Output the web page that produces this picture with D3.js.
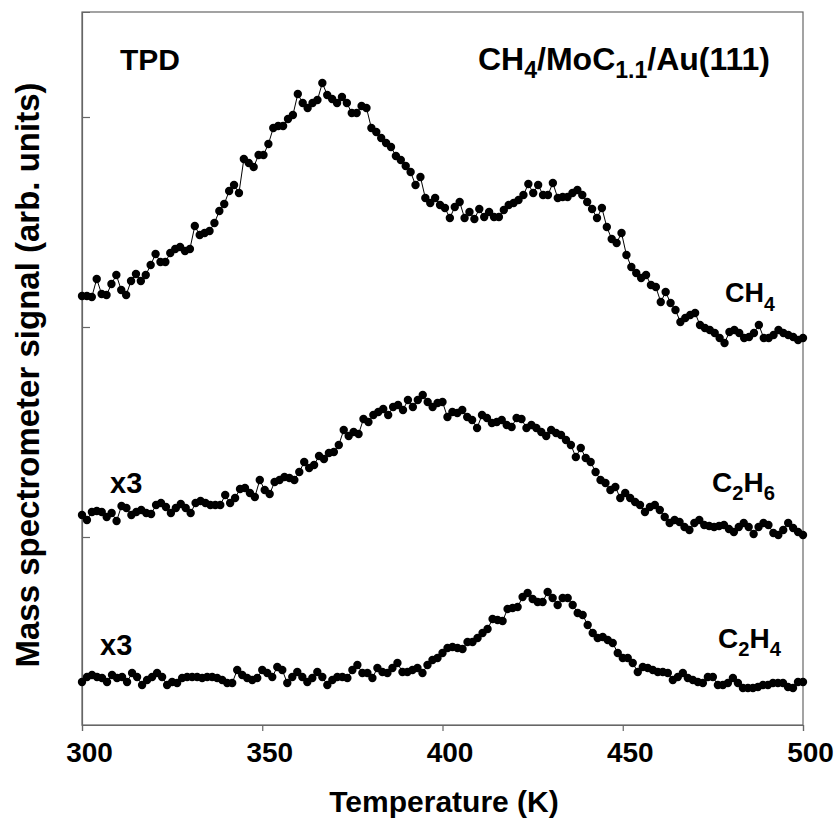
<!DOCTYPE html>
<html>
<head>
<meta charset="utf-8">
<script src="https://cdn.jsdelivr.net/npm/d3@7"></script>
<style>
  body { margin: 0; background: #fff; }
  svg { display: block; }
  text { font-family: Arial, "Liberation Sans", sans-serif; font-weight: bold; fill: #000; }
</style>
</head>
<body>
<svg id="chart" width="835" height="819"></svg>
<script>
const ch4 = [429,429,428,446,431,430,441,450,435,430,444,451,444,450,460,471,463,463,472,476,478,474,476,499,490,492,494,502,514,521,534,540,532,566,562,558,570,570,581,597,599,599,606,610,631,622,617,622,625,642,630,626,622,628,622,612,612,619,
  617,597,593,587,582,578,569,565,559,553,540,548,527,522,527,520,517,507,518,523,507,513,506,516,508,513,508,508,515,520,522,525,530,541,532,540,530,530,542,527,528,528,532,535,530,523,516,507,517,498,486,482,492,
  470,458,452,447,450,440,438,423,433,422,415,403,407,410,412,400,397,395,392,387,382,393,395,392,387,388,392,400,387,387,390,395,392,390,388,385,387];

const c2h6 = [210,205,213,214,213,208,212,204,219,217,210,213,215,212,211,220,222,218,212,217,221,217,212,222,224,222,220,220,220,230,222,227,236,237,232,228,245,235,231,243,245,248,247,245,253,263,257,260,269,266,272,273,280,295,289,293,291,306,303,310,313,316,310,318,320,315,325,318,325,330,323,318,322,323,
  308,313,312,315,308,305,297,310,307,302,303,305,300,298,307,306,297,300,297,293,289,295,292,290,285,280,268,277,267,263,253,245,242,235,238,227,232,227,223,220,213,218,220,215,208,202,205,203,198,195,202,205,200,199,198,199,200,196,193,198,202,198,191,198,202,200,192,190,195,202,197,193,190];

const c2h4 = [43,48,50,48,47,43,50,47,48,43,52,48,40,45,48,52,48,40,43,42,47,48,48,48,47,48,48,47,45,42,42,55,50,47,45,47,55,52,48,58,55,42,48,53,48,43,47,53,48,40,45,48,48,47,55,60,52,52,47,57,53,52,57,62,53,53,55,57,52,60,65,67,
  72,77,78,77,76,83,83,87,92,96,106,105,104,116,117,118,128,132,126,123,123,133,127,120,127,127,120,112,110,100,92,87,88,85,82,72,67,67,62,53,58,57,55,53,53,52,45,48,52,47,45,43,42,48,48,40,40,42,47,42,37,37,37,38,40,40,42,42,42,38,37,43,43];

const xTicks = [300, 350, 400, 450, 500];
const yTicks = [188, 398, 608];

const margin = { top: 12, left: 82 };
const W = 721, H = 713;
const svg = d3.select('#chart');
const g = svg.append('g').attr('transform', `translate(${margin.left},${margin.top})`);

const x = d3.scaleLinear().domain([300, 500]).range([0, W]);
const y = d3.scaleLinear().domain([0, 713]).range([H, 0]);

const frameCol = '#666';

// frame
g.append('rect').attr('width', W).attr('height', H)
  .attr('fill', 'none').attr('stroke', frameCol).attr('stroke-width', 1.2);

// x axis
const xa = g.append('g').attr('transform', `translate(0,${H})`)
  .call(d3.axisBottom(x).tickValues(xTicks).tickSizeOuter(0).tickSize(6).tickFormat(d3.format('d')));
xa.select('.domain').attr('stroke', frameCol).attr('stroke-width', 1.2);
xa.selectAll('.tick line').attr('stroke', frameCol).attr('stroke-width', 1.2);
xa.selectAll('.tick text').attr('y', 17).attr('dx', 7)
  .style('font-size', '28px').style('font-family', 'Arial, "Liberation Sans", sans-serif').style('font-weight', 'bold').attr('fill', '#000');

// y axis (unlabelled, inward ticks)
const ya = g.append('g')
  .call(d3.axisLeft(y).tickValues(yTicks).tickSizeOuter(0).tickSize(-8).tickFormat(''));
ya.select('.domain').attr('stroke', frameCol).attr('stroke-width', 1.2);
ya.selectAll('.tick line').attr('stroke', frameCol).attr('stroke-width', 1.2);

// series
const line = d3.line().x(d => x(d[0])).y(d => y(d[1]));
[ch4, c2h6, c2h4].forEach(vals => {
  const pts = vals.map((v, i) => [300 + i * 200 / (vals.length - 1), v]);
  g.append('path').datum(pts).attr('d', line)
    .attr('fill', 'none').attr('stroke', '#000').attr('stroke-width', 1);
  g.selectAll(null).data(pts).enter().append('circle')
    .attr('cx', d => x(d[0])).attr('cy', d => y(d[1])).attr('r', 4.2).attr('fill', '#000');
});

// text with subscripts: parts = [[str, isSub], ...]
function label(px, py, parts, size, shift) {
  const t = svg.append('text').attr('x', px).attr('y', py).style('font-size', size + 'px');
  const drop = size * (shift || 0.28);
  let down = false;
  parts.forEach(([s, sub]) => {
    const sp = t.append('tspan').text(s);
    if (sub) { sp.style('font-size', (size * 0.72) + 'px'); if (!down) sp.attr('dy', drop); down = true; }
    else if (down) { sp.attr('dy', -drop); down = false; }
  });
  return t;
}

label(120, 70, [['TPD']], 30);
label(478, 70, [['CH'], ['4', 1], ['/MoC'], ['1.1', 1], ['/Au(111)']], 32, 0.25);
label(725, 302, [['CH'], ['4', 1]], 27, 0.33);
label(712, 492, [['C'], ['2', 1], ['H'], ['6', 1]], 28, 0.3);
label(718, 648, [['C'], ['2', 1], ['H'], ['4', 1]], 28, 0.3);
label(110, 493, [['x3']], 29);
label(100, 655, [['x3']], 29);

// axis titles
svg.append('text').attr('x', 444).attr('y', 812).attr('text-anchor', 'middle')
  .style('font-size', '30px').text('Temperature (K)');
svg.append('text').attr('transform', 'translate(39,375) rotate(-90)').attr('text-anchor', 'middle')
  .style('font-size', '33px').text('Mass spectrometer signal (arb. units)');
</script>
</body>
</html>
